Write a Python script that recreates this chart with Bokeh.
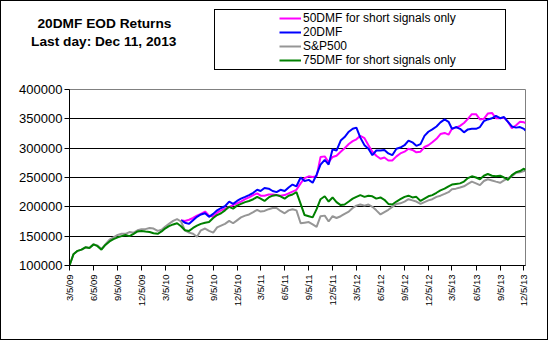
import pandas as pd
from math import pi
from bokeh.plotting import figure
from bokeh.layouts import column, row
from bokeh.models import (Range1d, FixedTicker, Legend, LegendItem, BasicTickFormatter)
from bokeh.embed import file_html
from bokeh.resources import INLINE

# ---------------- data (values in thousands of $) ----------------
months = [(2009 + (2 + i) // 12, (2 + i) % 12 + 1) for i in range(57)]  # Mar 2009 .. Nov 2013
dates = [f"{y}-{m:02d}-{d:02d}" for (y, m) in months for d in (5, 20)] + ["2013-12-05", "2013-12-11"]

dmf75 = [100, 119, 125, 127, 131, 130, 136, 133, 127, 135, 141, 145, 148, 150, 152, 150,
         154, 158, 159, 158, 157, 155, 154, 158, 163, 167, 170, 172, 167, 160, 159, 164,
         168, 171, 173, 174, 181, 186, 189, 194, 200, 197, 202, 205, 208, 210, 213, 217,
         214, 210, 216, 219, 220, 218, 214, 219, 221, 225, 205, 186, 184, 182, 196, 213,
         218, 209, 216, 208, 203, 204, 209, 214, 217, 220, 217, 219, 218, 214, 216, 212,
         205, 204, 209, 213, 217, 219, 216, 217, 210, 214, 218, 220, 224, 228, 231, 235,
         238, 239, 240, 243, 249, 252, 250, 247, 253, 256, 253, 252, 253, 250, 246, 254,
         259, 261, 265, 263]

sp500 = [100, 119, 125, 127, 131, 130, 136, 134, 128, 136, 144, 148, 152, 154, 154, 157,
         156, 160, 162, 162, 164, 163, 159, 161, 166, 171, 176, 179, 175, 160, 156, 154,
         149, 160, 163, 159, 156, 165, 168, 171, 176, 172, 177, 182, 185, 187, 191, 195,
         192, 193, 196, 198, 198, 193, 189, 194, 196, 194, 172, 173, 174, 170, 166, 184,
         185, 175, 184, 181, 184, 188, 192, 198, 202, 204, 202, 204, 200, 194, 187, 191,
         195, 200, 205, 206, 209, 213, 211, 209, 205, 208, 211, 213, 217, 219, 222, 225,
         230, 231, 233, 235, 239, 243, 240, 237, 244, 247, 245, 243, 241, 245, 249, 252,
         258, 259, 261, 262]

# the two other series split off from the common path in May 2010 (index 28 of dates)
split = 28
dmf20 = [177, 173, 171, 177, 183, 187, 189, 183, 188, 194, 198, 201, 209, 205, 210, 214,
         217, 220, 224, 229, 227, 232, 231, 227, 225, 229, 227, 233, 238, 235, 250, 244,
         246, 241, 255, 272, 280, 272, 298, 296, 313, 319, 328, 333, 335, 318, 305, 299,
         288, 296, 296, 297, 291, 288, 299, 301, 305, 313, 310, 304, 307, 321, 328, 332,
         337, 344, 349, 345, 333, 336, 333, 327, 332, 333, 333, 336, 346, 349, 351, 355,
         351, 353, 345, 337, 335, 336, 333, 330]

dmf50 = [177, 176, 178, 181, 185, 188, 192, 185, 183, 190, 194, 197, 200, 203, 206, 209,
         213, 216, 220, 223, 219, 219, 221, 221, 220, 219, 220, 223, 226, 229, 240, 249,
         252, 251, 252, 285, 286, 276, 285, 287, 294, 300, 307, 312, 315, 321, 317, 305,
         294, 287, 282, 284, 279, 279, 286, 291, 294, 299, 297, 293, 294, 302, 305, 310,
         316, 324, 326, 323, 333, 335, 338, 343, 350, 358, 358, 349, 350, 359, 360, 351,
         351, 352, 345, 334, 339, 345, 344, 343]

tick_labels = ["3/5/09", "6/5/09", "9/5/09", "12/5/09", "3/5/10", "6/5/10", "9/5/10",
               "12/5/10", "3/5/11", "6/5/11", "9/5/11", "12/5/11", "3/5/12", "6/5/12",
               "9/5/12", "12/5/12", "3/5/13", "6/5/13", "9/5/13", "12/5/13"]
y_ticks = [100000, 150000, 200000, 250000, 300000, 350000, 400000]

series_names = ["50DMF for short signals only", "20DMF", "S&P500", "75DMF for short signals only"]
series_colors = ["#FF00FF", "#0000FF", "#969696", "#008000"]
title_lines = ["20DMF EOD Returns", "Last day: Dec 11, 2013"]

# ---------------- derived ----------------
start = pd.Timestamp("2009-03-05")
days = [(pd.Timestamp(d) - start).days for d in dates]
tick_days = [int((pd.to_datetime(t, format="%m/%d/%y") - start).days) for t in tick_labels]
last_day = days[-1]
vals = [dmf50, dmf20, sp500, dmf75]
xs = [days[split:], days[split:], days, days]
ys = [[k * 1000 for k in v] for v in vals]

# ---------------- header strip: title + legend ----------------
TOP_H = 80
head = figure(width=546, height=TOP_H, output_backend="svg", toolbar_location=None,
              x_range=Range1d(0, 546), y_range=Range1d(0, TOP_H),
              x_axis_location=None, y_axis_location=None,
              min_border=0, min_border_left=0, min_border_right=0,
              min_border_top=0, min_border_bottom=0,
              border_fill_color="white", background_fill_color="white")
head.outline_line_color = None
head.grid.visible = False

dummy = head.line(x=[], y=[], line_alpha=0)
# hidden copies of the series, only used for the legend samples
samples = [head.line(x=x, y=y, line_color=c, line_width=2, visible=False)
           for x, y, c in zip(xs, ys, series_colors)]

# legend frame; location = bottom-left corner in px from the strip's bottom-left
head.add_layout(Legend(items=[LegendItem(label=" ", renderers=[dummy])], location=(213, 11),
                       padding=0, margin=0, spacing=0, glyph_width=1, glyph_height=1,
                       label_width=289, label_height=59, label_standoff=0,
                       label_text_font_size="1px",
                       border_line_color="black", border_line_width=1, border_line_alpha=1,
                       background_fill_color="white", background_fill_alpha=1), "center")

head.add_layout(Legend(items=[LegendItem(label=n, renderers=[r]) for n, r in zip(series_names, samples)],
                       location=(278, 14), padding=0, margin=0, spacing=0,
                       glyph_width=22, glyph_height=14, label_height=14, label_standoff=2,
                       label_text_font="Liberation Sans", label_text_font_size="12px",
                       label_text_color="black", border_line_color=None,
                       background_fill_alpha=0, inactive_fill_alpha=0), "center")

for txt, loc in zip(title_lines, [(36.5, 50), (30.1, 31.5)]):
    head.add_layout(Legend(items=[LegendItem(label=txt, renderers=[dummy])], location=loc,
                           padding=0, margin=0, spacing=0, glyph_width=0, glyph_height=16,
                           label_height=16, label_standoff=0,
                           label_text_font="Liberation Sans", label_text_font_style="bold",
                           label_text_font_size="13.7px", label_text_color="black",
                           border_line_color=None, background_fill_alpha=0), "center")

# ---------------- main chart ----------------
p = figure(width=546, height=338 - TOP_H, output_backend="svg", toolbar_location=None,
           x_range=Range1d(0, last_day), y_range=Range1d(100000, 400000),
           min_border_left=68, min_border_right=22, min_border_top=8, min_border_bottom=74,
           background_fill_color="white", border_fill_color="white")

p.outline_line_color = "#808080"
p.outline_line_width = 1
p.xgrid.visible = False
p.ygrid.ticker = FixedTicker(ticks=y_ticks[1:-1])
p.ygrid.grid_line_color = "black"
p.ygrid.grid_line_width = 1

ya = p.yaxis[0]
ya.ticker = FixedTicker(ticks=y_ticks)
ya.formatter = BasicTickFormatter(use_scientific=False)
ya.major_label_text_font = "Liberation Sans"
ya.major_label_text_font_size = "13px"
ya.major_label_text_color = "black"
ya.major_tick_out = 5
ya.major_tick_in = 0
ya.minor_tick_out = 0
ya.minor_tick_in = 0
ya.major_label_standoff = 2
ya.axis_line_color = "black"
ya.major_tick_line_color = "black"

xa = p.xaxis[0]
xa.ticker = FixedTicker(ticks=tick_days)
xa.major_label_overrides = {d: t for d, t in zip(tick_days, tick_labels)}
xa.major_label_orientation = pi / 2
xa.major_label_text_font = "Liberation Sans"
xa.major_label_text_font_size = "9.5px"
xa.major_label_text_color = "black"
xa.major_tick_out = 5
xa.major_tick_in = 0
xa.minor_tick_out = 0
xa.minor_tick_in = 0
xa.major_label_standoff = 4
xa.axis_line_color = "black"
xa.major_tick_line_color = "black"

for x, y, c in zip(xs, ys, series_colors):
    p.line(x=x, y=y, line_color=c, line_width=2)

page = column(row(head), p, spacing=0, styles={"border": "1px solid black"})

open("out.html", "w").write(file_html(page, INLINE))
